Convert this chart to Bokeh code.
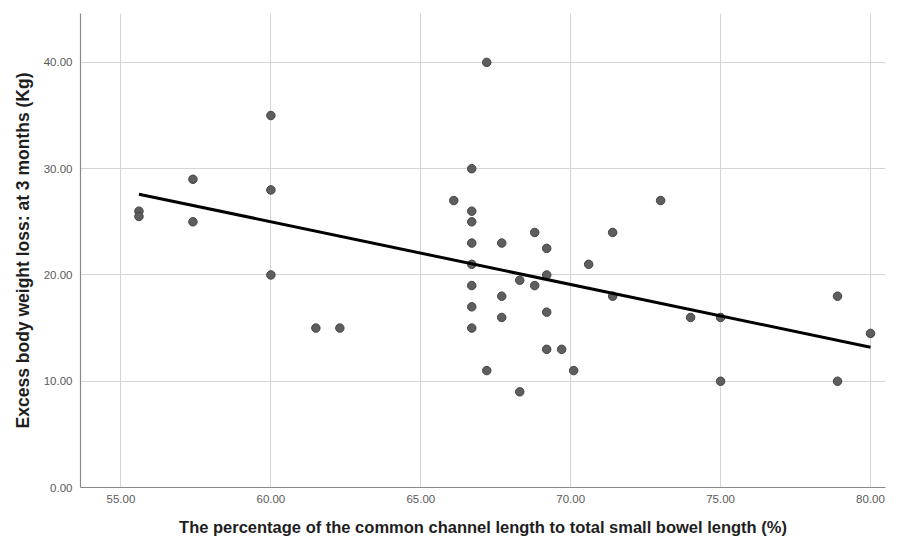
from bokeh.plotting import figure
from bokeh.models import Range1d, FixedTicker, NumeralTickFormatter, ColumnDataSource
from bokeh.embed import file_html
from bokeh.resources import INLINE

# Data
common_channel_pct = [55.6, 55.6, 57.4, 57.4, 60.0, 60.0, 60.0, 61.5, 62.3,
                      66.1, 66.7, 66.7, 66.7, 66.7, 66.7, 66.7, 66.7, 66.7,
                      67.2, 67.2, 67.7, 67.7, 67.7, 68.3, 68.3, 68.8, 68.8,
                      69.2, 69.2, 69.2, 69.2, 69.7, 70.1, 70.6, 71.4, 71.4,
                      73.0, 74.0, 75.0, 75.0, 78.9, 78.9, 80.0]
ewl_3_months = [26.0, 25.5, 29.0, 25.0, 35.0, 28.0, 20.0, 15.0, 15.0,
                27.0, 30.0, 26.0, 25.0, 23.0, 21.0, 19.0, 17.0, 15.0,
                40.0, 11.0, 23.0, 18.0, 16.0, 19.5, 9.0, 24.0, 19.0,
                22.5, 20.0, 16.5, 13.0, 13.0, 11.0, 21.0, 24.0, 18.0,
                27.0, 16.0, 16.0, 10.0, 18.0, 10.0, 14.5]
# Fit line (linear regression)
fit_x = [55.6, 80.0]
fit_y = [27.6, 13.2]
x_ticks = [55, 60, 65, 70, 75, 80]
y_ticks = [0, 10, 20, 30, 40]

FONT = "Liberation Sans"

p = figure(width=899, height=544, output_backend="svg", toolbar_location=None,
           x_range=Range1d(53.65, 80.5), y_range=Range1d(0, 44.6),
           min_border_left=80, min_border_right=14, min_border_top=13, min_border_bottom=57)
p.outline_line_color = None
p.background_fill_color = "white"
p.border_fill_color = "white"

p.xaxis.ticker = FixedTicker(ticks=x_ticks)
p.yaxis.ticker = FixedTicker(ticks=y_ticks)
p.xaxis.formatter = NumeralTickFormatter(format="0.00")
p.yaxis.formatter = NumeralTickFormatter(format="0.00")

for ax in (p.xaxis[0], p.yaxis[0]):
    ax.axis_line_color = "#8a8a8a"
    ax.axis_line_width = 1.2
    ax.major_tick_out = 0
    ax.major_tick_in = 0
    ax.minor_tick_out = 0
    ax.minor_tick_in = 0
    ax.major_label_text_font = FONT
    ax.major_label_text_font_size = "11.5px"
    ax.major_label_text_color = "#5a5a5a"
    ax.axis_label_text_font = FONT
    ax.axis_label_text_font_style = "bold"
    ax.axis_label_text_color = "#1e1e1e"

p.xaxis.axis_label = "The percentage of the common channel length to total small bowel length (%)"
p.yaxis.axis_label = "Excess body weight loss: at 3 months (Kg)"
p.xaxis.axis_label_text_font_size = "16.5px"
p.yaxis.axis_label_text_font_size = "17.5px"
p.xaxis.major_label_standoff = 7
p.yaxis.major_label_standoff = 8
p.xaxis.axis_label_standoff = 12
p.yaxis.axis_label_standoff = 8

p.xgrid.grid_line_color = "#d4d4d4"
p.ygrid.grid_line_color = "#d4d4d4"
p.xgrid.grid_line_width = 1
p.ygrid.grid_line_width = 1

src = ColumnDataSource(dict(x=common_channel_pct, y=ewl_3_months))
p.scatter("x", "y", source=src, size=8.5, fill_color="#5e5e5e", line_color="#444444", line_width=1)
p.line(fit_x, fit_y, line_color="black", line_width=3)

open("out.html", "w").write(file_html(p, INLINE))
